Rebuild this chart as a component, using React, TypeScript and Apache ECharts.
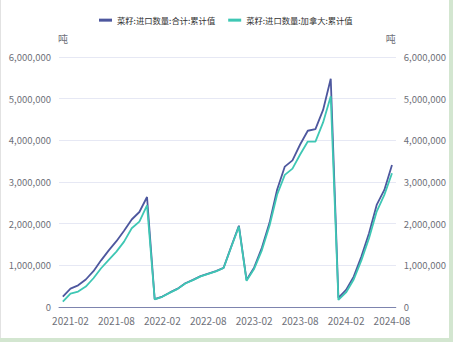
import React, { useEffect, useRef } from "react";
import * as echarts from "echarts";

const months: string[] = [
  "2021-01","2021-02","2021-03","2021-04","2021-05","2021-06","2021-07","2021-08","2021-09","2021-10","2021-11","2021-12",
  "2022-01","2022-02","2022-03","2022-04","2022-05","2022-06","2022-07","2022-08","2022-09","2022-10","2022-11","2022-12",
  "2023-01","2023-02","2023-03","2023-04","2023-05","2023-06","2023-07","2023-08","2023-09","2023-10","2023-11","2023-12",
  "2024-01","2024-02","2024-03","2024-04","2024-05","2024-06","2024-07","2024-08",
];

const totalName = "菜籽:进口数量:合计:累计值";
const canadaName = "菜籽:进口数量:加拿大:累计值";

const totalValues: number[] = [
  250000, 440000, 520000, 660000, 860000, 1120000, 1360000, 1580000, 1830000, 2100000, 2280000, 2640000,
  190000, 250000, 350000, 440000, 570000, 650000, 740000, 800000, 860000, 940000, 1450000, 1950000,
  650000, 950000, 1420000, 2020000, 2820000, 3370000, 3520000, 3900000, 4230000, 4270000, 4730000, 5480000,
  220000, 410000, 730000, 1210000, 1770000, 2450000, 2810000, 3410000,
];

const canadaValues: number[] = [
  130000, 320000, 370000, 490000, 690000, 930000, 1130000, 1330000, 1570000, 1890000, 2050000, 2440000,
  185000, 245000, 345000, 435000, 565000, 645000, 735000, 795000, 855000, 935000, 1440000, 1930000,
  630000, 920000, 1360000, 1950000, 2700000, 3170000, 3320000, 3660000, 3970000, 3970000, 4430000, 5060000,
  170000, 350000, 660000, 1120000, 1650000, 2290000, 2690000, 3210000,
];

const unit = "吨";
const yMax = 6000000;
const yInterval = 1000000;

export default function App() {
  const ref = useRef<HTMLDivElement>(null);

  useEffect(() => {
    if (!ref.current) return;
    const chart = echarts.init(ref.current, undefined, { renderer: "svg" });
    const font = "'Noto Sans CJK SC', 'Noto Sans', sans-serif";
    const fmt = (v: number) => v.toLocaleString("en-US");
    const yAxisBase = {
      type: "value" as const,
      min: 0,
      max: yMax,
      interval: yInterval,
      name: unit,
      nameGap: 14,
      axisLine: { show: false },
      axisTick: { show: false },
      splitLine: { lineStyle: { color: "#E6E8F4", width: 1 } },
    };
    chart.setOption({
      animation: false,
      textStyle: { fontFamily: font },
      legend: {
        top: 11,
        left: 93,
        itemWidth: 13,
        itemHeight: 3,
        itemGap: 13,
        icon: "rect",
        textStyle: { fontSize: 8.3, color: "#333", fontFamily: font },
        data: [totalName, canadaName],
      },
      grid: { left: 58, right: 53, top: 57, bottom: 31 },
      xAxis: {
        type: "category",
        data: months,
        boundaryGap: true,
        axisLine: { lineStyle: { color: "#7D84AE", width: 1 } },
        axisTick: { show: false },
        axisLabel: {
          interval: (i: number) => i % 6 === 1,
          color: "#6E7079",
          fontSize: 10,
          lineHeight: 10,
          margin: 8,
          fontFamily: font,
        },
      },
      yAxis: [
        {
          ...yAxisBase,
          position: "left",
          nameTextStyle: { color: "#6E7079", fontSize: 10, padding: [0, 0, 0, 8], fontFamily: font },
          axisLabel: { color: "#6E7079", fontSize: 9.5, lineHeight: 10, margin: 8, formatter: fmt, fontFamily: font },
        },
        {
          ...yAxisBase,
          position: "right",
          nameTextStyle: { color: "#6E7079", fontSize: 10, padding: [0, 10, 0, 0], fontFamily: font },
          axisLabel: { color: "#6E7079", fontSize: 9.5, lineHeight: 10, margin: 8, formatter: fmt, fontFamily: font },
        },
      ],
      series: [
        {
          name: totalName,
          type: "line",
          yAxisIndex: 0,
          data: totalValues,
          showSymbol: false,
          symbol: "none",
          lineStyle: { color: "#4D579E", width: 1.8 },
          itemStyle: { color: "#4D579E" },
        },
        {
          name: canadaName,
          type: "line",
          yAxisIndex: 1,
          data: canadaValues,
          showSymbol: false,
          symbol: "none",
          lineStyle: { color: "#3EC7B4", width: 1.8 },
          itemStyle: { color: "#3EC7B4" },
        },
      ],
    });
    return () => chart.dispose();
  }, []);

  return (
    <div
      style={{
        position: "fixed",
        left: 0,
        top: 0,
        width: 453,
        height: 342,
        background: "#D3E6D0",
      }}
    >
      <div
        style={{
          position: "absolute",
          left: 0,
          top: 0,
          width: 449,
          height: 338,
          background: "#fff",
          borderLeft: "1px solid #E2E2E2",
          boxSizing: "border-box",
        }}
      >
        <div ref={ref} style={{ width: 448, height: 338 }} />
      </div>
    </div>
  );
}
